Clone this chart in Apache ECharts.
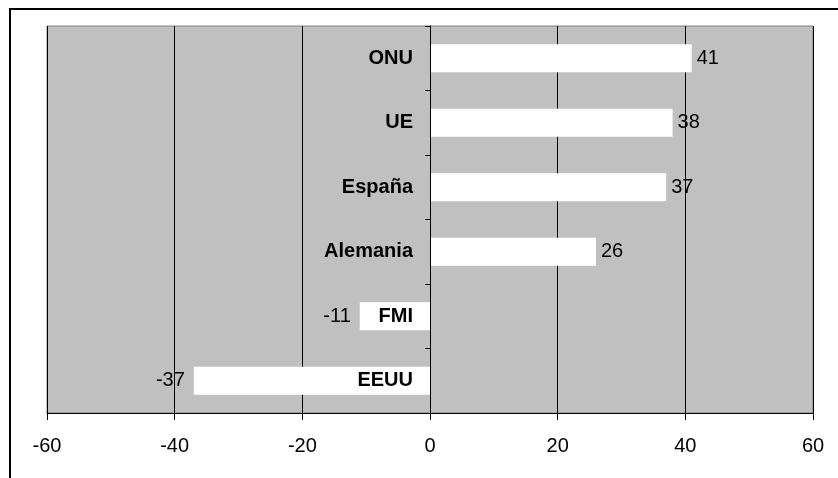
<!DOCTYPE html>
<html>
<head>
<meta charset="utf-8">
<script src="https://cdn.jsdelivr.net/npm/echarts@6/dist/echarts.min.js"></script>
<style>
html,body{margin:0;padding:0;background:#fff;}
#c{width:838px;height:478px;}
</style>
</head>
<body>
<div id="c"></div>
<script>
const categories = ['ONU', 'UE', 'España', 'Alemania', 'FMI', 'EEUU'];
const values = [41, 38, 37, 26, -11, -37];
const xTicks = { min: -60, max: 60, interval: 20 };

const chart = echarts.init(document.getElementById('c'), null, { renderer: 'canvas' });
const font = '"Liberation Sans", Arial, sans-serif';
const gridLeft = 47, gridRight = 25;
const plotW = 838 - gridLeft - gridRight;
const zeroOffset = -plotW * (0 - xTicks.min) / (xTicks.max - xTicks.min);
chart.setOption({
  backgroundColor: '#fff',
  animation: false,
  graphic: [{
    type: 'rect',
    shape: { x: 10, y: 9, width: 900, height: 600 },
    style: { fill: 'none', stroke: '#000', lineWidth: 2 },
    z: 100
  }],
  grid: {
    left: gridLeft, right: gridRight, top: 26, bottom: 65,
    outerBoundsMode: 'none', containLabel: false,
    show: true, backgroundColor: '#C0C0C0', borderColor: '#808080', borderWidth: 1
  },
  xAxis: {
    type: 'value', min: xTicks.min, max: xTicks.max, interval: xTicks.interval,
    position: 'bottom',
    axisLine: { show: true, onZero: false, lineStyle: { color: '#000', width: 1 } },
    axisTick: { show: true, length: 7, lineStyle: { color: '#000' } },
    axisLabel: { fontSize: 20, color: '#000', margin: 23, fontFamily: font },
    splitLine: { show: true, lineStyle: { color: '#000', width: 1 } },
    z: 0
  },
  yAxis: {
    type: 'category', data: categories, inverse: true,
    position: 'left', offset: zeroOffset,
    axisLine: { show: true, onZero: false, lineStyle: { color: '#000', width: 1 } },
    axisTick: { show: true, length: 5, lineStyle: { color: '#000' } },
    axisLabel: { fontSize: 20, fontWeight: 'bold', color: '#000', margin: 17, fontFamily: font },
    splitLine: { show: false },
    z: 10
  },
  series: [{
    type: 'bar',
    data: values.map(v => ({
      value: v,
      label: { position: v < 0 ? 'left' : 'right', distance: v < 0 ? 9 : 5 }
    })),
    barWidth: 28,
    itemStyle: { color: '#fff' },
    label: { show: true, fontSize: 20, color: '#000', fontFamily: font },
    z: 2
  }]
});
</script>
</body>
</html>
